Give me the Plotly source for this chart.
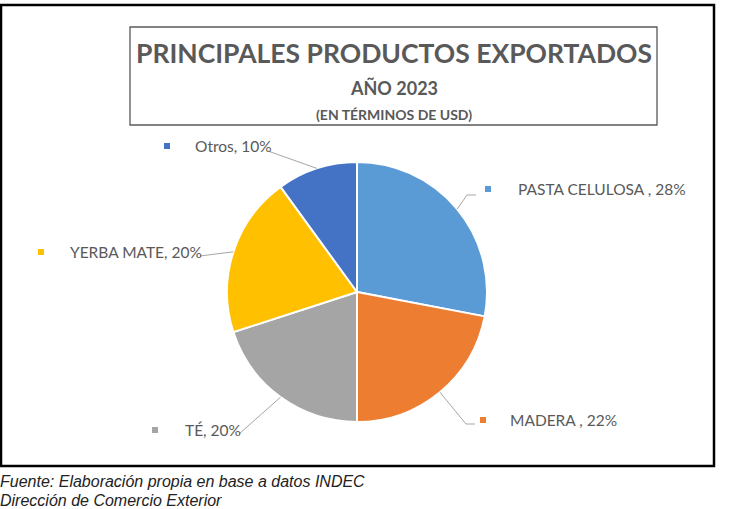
import math
import plotly.graph_objects as go

# ---- data ----
categories = ["PASTA CELULOSA ", "MADERA ", "TÉ", "YERBA MATE", "Otros"]
values = [28, 22, 20, 20, 10]
colors = ["#5B9BD5", "#ED7D31", "#A5A5A5", "#FFC000", "#4472C4"]

W, H = 729, 509
# pie geometry in pixels
cx, cy, R = 357, 292, 130

def px(x):
    return x / W

def py(y):
    return 1 - y / H

fig = go.Figure()
fig.add_trace(go.Pie(
    labels=categories,
    values=values,
    sort=False,
    direction="clockwise",
    rotation=0,
    marker=dict(colors=colors, line=dict(color="white", width=2)),
    textinfo="none",
    hoverinfo="label+percent",
    showlegend=False,
    domain=dict(x=[px(cx - R), px(cx + R)], y=[py(cy + R), py(cy - R)]),
))

shapes = []
annotations = []

# outer frame
shapes.append(dict(type="rect", xref="paper", yref="paper",
                   x0=px(1), x1=px(714), y0=py(466), y1=py(5),
                   line=dict(color="black", width=2.5)))
# title box
shapes.append(dict(type="rect", xref="paper", yref="paper",
                   x0=px(130), x1=px(657), y0=py(125), y1=py(27),
                   line=dict(color="#595959", width=1.3)))

title_font = "Lato, 'Open Sans', sans-serif"
for txt, yy, sz in [("<b>PRINCIPALES PRODUCTOS EXPORTADOS</b>", 53, 26.5),
                    ("<b>AÑO 2023</b>", 88, 18),
                    ("<b>(EN TÉRMINOS DE USD)</b>", 114, 14)]:
    annotations.append(dict(text=txt, x=px(394), y=py(yy),
                            xref="paper", yref="paper", showarrow=False,
                            xanchor="center", yanchor="middle",
                            font=dict(family=title_font, size=sz, color="#595959")))

# labels: marker position, text start, elbow points
label_pos = {
    "PASTA CELULOSA ": dict(mx=488, my=189, tx=516, line=[(467, 195), (476, 195)]),
    "MADERA ": dict(mx=483, my=420, tx=508, line=[(466, 424), (475, 424)]),
    "TÉ": dict(mx=155, my=430, tx=183, line=[(239, 434)]),
    "YERBA MATE": dict(mx=41, my=252, tx=68, line=[(200, 256)]),
    "Otros": dict(mx=167, my=146, tx=193, line=[(268, 151)]),
}

total = sum(values)
cum = 0
for cat, val, col in zip(categories, values, colors):
    mid = (cum + val / 2) / total * 2 * math.pi
    cum += val
    ex = cx + R * math.sin(mid)
    ey = cy - R * math.cos(mid)
    lp = label_pos[cat]
    pct = round(val / total * 100)
    annotations.append(dict(text=f"{cat}, {pct}%", x=px(lp["tx"]), y=py(lp["my"]),
                            xref="paper", yref="paper", showarrow=False,
                            xanchor="left", yanchor="middle",
                            font=dict(family="Lato, 'Open Sans', sans-serif", size=15.5, color="#595959")))
    s = 3
    shapes.append(dict(type="rect", xref="paper", yref="paper",
                       x0=px(lp["mx"] - s), x1=px(lp["mx"] + s),
                       y0=py(lp["my"] + s), y1=py(lp["my"] - s),
                       fillcolor=col, line=dict(width=0)))
    pts = [(ex, ey)] + lp["line"]
    for (x0, y0), (x1, y1) in zip(pts[:-1], pts[1:]):
        shapes.append(dict(type="line", xref="paper", yref="paper",
                           x0=px(x0), y0=py(y0), x1=px(x1), y1=py(y1),
                           line=dict(color="#A6A6A6", width=1)))

foot_font = "'Liberation Sans', Arial, sans-serif"
annotations.append(dict(text="<i>Fuente: Elaboración propia en base a datos INDEC</i>", x=px(-2), y=py(481),
                        xref="paper", yref="paper", showarrow=False, xanchor="left", yanchor="middle",
                        font=dict(family=foot_font, size=16, color="#222222")))
annotations.append(dict(text="<i>Dirección de Comercio Exterior</i>", x=px(-2), y=py(500),
                        xref="paper", yref="paper", showarrow=False, xanchor="left", yanchor="middle",
                        font=dict(family=foot_font, size=16, color="#222222")))

fig.update_layout(
    width=W, height=H,
    margin=dict(l=0, r=0, t=0, b=0),
    paper_bgcolor="white",
    plot_bgcolor="white",
    shapes=shapes,
    annotations=annotations,
)

fig.write_html("out.html")
